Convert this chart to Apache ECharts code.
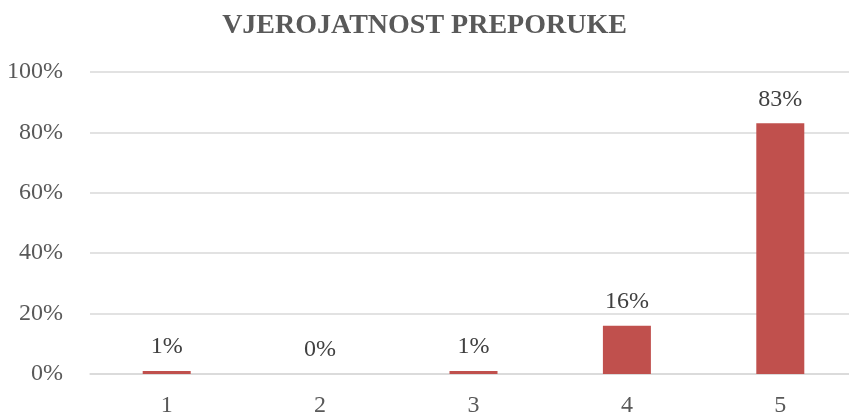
<!DOCTYPE html>
<html>
<head>
<meta charset="utf-8">
<script src="https://cdn.jsdelivr.net/npm/echarts@6/dist/echarts.min.js"></script>
<style>
	html, body { margin: 0; padding: 0; background: #fff; }
	#chart { width: 849px; height: 417px; }
</style>
</head>
<body>
<div id="chart"></div>
<script>
var categories = ['1', '2', '3', '4', '5'];
var values = [1, 0, 1, 16, 83];
var yTicks = [0, 20, 40, 60, 80, 100];

var _font = '"Liberation Serif", "Times New Roman", serif';

var chart = echarts.init(document.getElementById('chart'));
chart.setOption({
	animation: false,
	title: {
		text: 'VJEROJATNOST PREPORUKE',
		left: 'center',
		top: 7,
		textStyle: {
			fontFamily: _font,
			fontWeight: 'bold',
			fontSize: 28,
			color: '#595959'
		}
	},
	grid: {
		left: 90,
		width: 767,
		top: 72,
		bottom: 43,
		containLabel: false,
		outerBoundsMode: 'none'
	},
	xAxis: {
		type: 'category',
		data: categories,
		axisLine: { show: true, lineStyle: { color: '#d9d9d9', width: 1.5 } },
		axisTick: { show: false },
		axisLabel: {
			margin: 20,
			fontFamily: _font,
			fontSize: 24,
			color: '#595959'
		}
	},
	yAxis: {
		type: 'value',
		min: yTicks[0],
		max: yTicks[yTicks.length - 1],
		interval: 20,
		axisLine: { show: false },
		axisTick: { show: false },
		axisLabel: {
			margin: 27,
			fontFamily: _font,
			fontSize: 24,
			color: '#595959',
			formatter: '{value}%'
		},
		splitLine: { lineStyle: { color: '#d9d9d9', width: 1.5 } }
	},
	series: [{
		type: 'bar',
		data: values,
		barWidth: 48,
		itemStyle: { color: '#c0504d' },
		label: {
			show: true,
			position: 'top',
			distance: 12,
			fontFamily: _font,
			fontSize: 24,
			color: '#404040',
			formatter: function(p) { return Math.round(p.value) + '%'; }
		}
	}]
});
</script>
</body>
</html>
